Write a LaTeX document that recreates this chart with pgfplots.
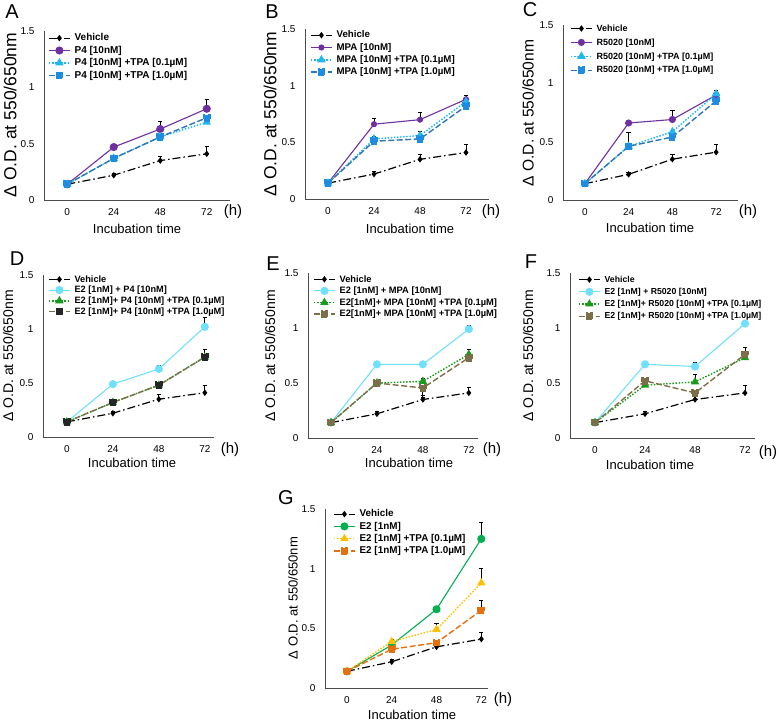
\documentclass[border=0pt]{standalone}
\usepackage{fontspec}
\setmainfont{Liberation Sans}
\usepackage{pgfplots}
\pgfplotsset{compat=1.18}
\definecolor{cPur}{HTML}{7030A0}
\definecolor{cLB}{HTML}{1FB8F0}
\definecolor{cBl}{HTML}{2E75B6}
\definecolor{cBlM}{HTML}{1E8CE0}
\definecolor{cCy}{HTML}{70E0FF}
\definecolor{cGr}{HTML}{1A9A1A}
\definecolor{cOl}{HTML}{7D6E4A}
\definecolor{cG2}{HTML}{00B050}
\definecolor{cYe}{HTML}{FFC000}
\definecolor{cOr}{HTML}{E4700F}
\pgfplotsset{
 panel/.style={scale only axis, anchor=south west, axis lines*=left,
  axis line style={black!70, line width=0.9pt},
  ymin=0, ymax=1.5, ytick={0,0.5,1,1.5}, yticklabels={0,0.5,1,1.5},
  xtick={0,1,2,3}, xticklabels={0,24,48,72},
  major tick length=0pt, tick style={draw=none},
  tick label style={font=\fontsize{10}{10}\selectfont},
  xticklabel style={yshift=-4.5pt}, yticklabel style={xshift=-6pt},
  clip=false, legend cell align=left,
  legend image code/.code={\draw[mark repeat=2,mark phase=2,##1] plot coordinates {(0pt,0pt) (10.5pt,0pt) (21pt,0pt)};}},
 leg/.style n args={4}{legend style={draw=none, fill=none, inner sep=0pt,
  at={(axis description cs:0,1)}, anchor=north west, xshift=#1, yshift=#2,
  font=\bfseries\fontsize{#3}{#3}\selectfont, row sep=#4, column sep=4pt,
  nodes={inner sep=0pt, text height=0.72em, text depth=0.18em}}},
 veh/.style={black, line width=1.2pt, dash pattern=on 8pt off 3pt on 1.5pt off 3pt, mark=diamond*, mark size=2.3pt, mark options={solid}},
 hor/.style={#1, line width=1.1pt, solid, mark=*, mark size=3.5pt},
 tpaA/.style={#1, line width=1.4pt, dash pattern=on 1.5pt off 1.6pt, mark=triangle*, mark size=3.5pt, mark options={solid}},
 tpaB/.style={#1, line width=1.4pt, dash pattern=on 6pt off 2.5pt, mark=square*, mark size=3.1pt, mark options={solid}},
 errs/.style={draw=none, mark=none, forget plot,
  error bars/y dir=plus, error bars/y explicit,
  error bars/error bar style={draw=black, solid, line width=0.8pt},
  error bars/error mark options={rotate=90, draw=black, solid, mark size=2.2pt, line width=0.8pt}},
}
\begin{document}
\begin{tikzpicture}
\useasboundingbox (0pt,0pt) rectangle (778pt,-723pt);
% ---------------- A
\begin{axis}[panel, at={(44pt,-200pt)}, width=186pt, height=169pt, xmin=-0.5, xmax=3.5, leg={4pt}{-2.4pt}{10}{3.4pt}]
\addplot[veh] coordinates {(0,0.14) (1,0.22) (2,0.35) (3,0.41)}; \addlegendentry{Vehicle}
\addplot[hor=cPur] coordinates {(0,0.14) (1,0.47) (2,0.63) (3,0.81)}; \addlegendentry{P4 [10nM]}
\addplot[tpaA=cLB] coordinates {(0,0.14) (1,0.37) (2,0.56) (3,0.69)}; \addlegendentry{P4 [10nM] +TPA [0.1µM]}
\addplot[tpaB=cBl, mark options={fill=cBlM, draw=cBlM}] coordinates {(0,0.14) (1,0.37) (2,0.56) (3,0.73)}; \addlegendentry{P4 [10nM] +TPA [1.0µM]}
\addplot[errs] coordinates {(1,0.22) +- (0,0.02) (2,0.35) +- (0,0.04) (3,0.41) +- (0,0.07) (2,0.63) +- (0,0.07) (3,0.81) +- (0,0.08)};
\end{axis}
% ---------------- B
\begin{axis}[panel, at={(305pt,-199pt)}, width=184pt, height=170pt, xmin=-0.5, xmax=3.5, leg={5pt}{-1.5pt}{9.7}{3.3pt}]
\addplot[veh] coordinates {(0,0.14) (1,0.22) (2,0.35) (3,0.41)}; \addlegendentry{Vehicle}
\addplot[hor=cPur, mark size=2.5pt] coordinates {(0,0.14) (1,0.66) (2,0.70) (3,0.88)}; \addlegendentry{MPA [10nM]}
\addplot[tpaA=cLB] coordinates {(0,0.14) (1,0.53) (2,0.56) (3,0.86)}; \addlegendentry{MPA [10nM] +TPA [0.1µM]}
\addplot[tpaB=cBl, mark options={fill=cBlM, draw=cBlM}] coordinates {(0,0.14) (1,0.51) (2,0.53) (3,0.82)}; \addlegendentry{MPA [10nM] +TPA [1.0µM]}
\addplot[errs] coordinates {(1,0.22) +- (0,0.02) (2,0.35) +- (0,0.04) (3,0.41) +- (0,0.07) (1,0.66) +- (0,0.05) (2,0.70) +- (0,0.06) (3,0.88) +- (0,0.03) (1,0.53) +- (0,0.02) (2,0.56) +- (0,0.04)};
\end{axis}
% ---------------- C
\begin{axis}[panel, at={(563pt,-200pt)}, width=175pt, height=175pt, xmin=-0.5, xmax=3.5, leg={7pt}{1.2pt}{9}{4.9pt}]
\addplot[veh] coordinates {(0,0.14) (1,0.22) (2,0.35) (3,0.41)}; \addlegendentry{Vehicle}
\addplot[hor=cPur, mark size=3pt] coordinates {(0,0.14) (1,0.66) (2,0.69) (3,0.90)}; \addlegendentry{R5020 [10nM]}
\addplot[tpaA=cLB] coordinates {(0,0.14) (1,0.46) (2,0.585) (3,0.91)}; \addlegendentry{R5020 [10nM] +TPA [0.1µM]}
\addplot[tpaB=cBl, mark options={fill=cBlM, draw=cBlM}] coordinates {(0,0.14) (1,0.46) (2,0.54) (3,0.85)}; \addlegendentry{R5020 [10nM] +TPA [1.0µM]}
\addplot[errs] coordinates {(1,0.22) +- (0,0.02) (2,0.35) +- (0,0.04) (3,0.41) +- (0,0.07) (2,0.69) +- (0,0.08) (3,0.90) +- (0,0.04) (1,0.46) +- (0,0.12)};
\end{axis}
% ---------------- D
\begin{axis}[panel, at={(43pt,-437pt)}, width=171pt, height=162pt, xmin=-0.52, xmax=3.2, leg={5pt}{0.3pt}{9.2}{1.7pt}]
\addplot[veh] coordinates {(0,0.14) (1,0.22) (2,0.35) (3,0.41)}; \addlegendentry{Vehicle}
\addplot[hor=cCy] coordinates {(0,0.14) (1,0.49) (2,0.63) (3,1.02)}; \addlegendentry{E2 [1nM] + P4 [10nM]}
\addplot[tpaA=cGr] coordinates {(0,0.14) (1,0.32) (2,0.48) (3,0.74)}; \addlegendentry{E2 [1nM]+ P4 [10nM] +TPA [0.1µM]}
\addplot[tpaB=cOl, mark options={fill=black!85, draw=black!85}] coordinates {(0,0.14) (1,0.32) (2,0.48) (3,0.74)}; \addlegendentry{E2 [1nM]+ P4 [10nM] +TPA [1.0µM]}
\addplot[errs] coordinates {(1,0.22) +- (0,0.02) (2,0.35) +- (0,0.04) (3,0.41) +- (0,0.07) (1,0.49) +- (0,0.01) (2,0.63) +- (0,0.03) (3,1.02) +- (0,0.09) (3,0.74) +- (0,0.07)};
\end{axis}
% ---------------- E
\begin{axis}[panel, at={(308pt,-438pt)}, width=170pt, height=165pt, xmin=-0.5, xmax=3.2, leg={5pt}{-1.6pt}{9.3}{2.6pt}]
\addplot[veh] coordinates {(0,0.14) (1,0.22) (2,0.35) (3,0.41)}; \addlegendentry{Vehicle}
\addplot[hor=cCy] coordinates {(0,0.14) (1,0.67) (2,0.67) (3,0.99)}; \addlegendentry{E2 [1nM] + MPA [10nM]}
\addplot[tpaA=cGr] coordinates {(0,0.14) (1,0.50) (2,0.515) (3,0.76)}; \addlegendentry{E2[1nM]+ MPA [10nM] +TPA [0.1µM]}
\addplot[tpaB=cOl, mark options={fill=cOl, draw=cOl}] coordinates {(0,0.14) (1,0.50) (2,0.455) (3,0.73)}; \addlegendentry{E2[1nM]+ MPA [10nM] +TPA [1.0µM]}
\addplot[errs] coordinates {(1,0.22) +- (0,0.02) (2,0.35) +- (0,0.04) (3,0.41) +- (0,0.05) (1,0.67) +- (0,0.02) (2,0.67) +- (0,0.02) (3,0.99) +- (0,0.03) (1,0.50) +- (0,0.02) (2,0.515) +- (0,0.03) (3,0.76) +- (0,0.05)};
\addplot[errs, error bars/y dir=minus] coordinates {(2,0.455) +- (0,0.09)};
\end{axis}
% ---------------- F
\begin{axis}[panel, at={(570pt,-438pt)}, width=185pt, height=165pt, xmin=-0.5, xmax=3.2, leg={8pt}{-1.9pt}{8.7}{3.2pt}]
\addplot[veh] coordinates {(0,0.14) (1,0.22) (2,0.35) (3,0.41)}; \addlegendentry{Vehicle}
\addplot[hor=cCy] coordinates {(0,0.14) (1,0.67) (2,0.65) (3,1.04)}; \addlegendentry{E2 [1nM] + R5020 [10nM]}
\addplot[tpaA=cGr] coordinates {(0,0.14) (1,0.48) (2,0.51) (3,0.73)}; \addlegendentry{E2 [1nM]+ R5020 [10nM] +TPA [0.1µM]}
\addplot[tpaB=cOl, mark options={fill=cOl, draw=cOl}] coordinates {(0,0.14) (1,0.52) (2,0.41) (3,0.76)}; \addlegendentry{E2 [1nM]+ R5020 [10nM] +TPA [1.0µM]}
\addplot[errs] coordinates {(1,0.22) +- (0,0.02) (2,0.35) +- (0,0.04) (3,0.41) +- (0,0.07) (1,0.67) +- (0,0.02) (2,0.65) +- (0,0.04) (3,1.04) +- (0,0.01) (2,0.51) +- (0,0.07) (1,0.52) +- (0,0.02) (3,0.76) +- (0,0.06)};
\end{axis}
% ---------------- G
\begin{axis}[panel, at={(325pt,-688pt)}, width=163pt, height=179pt, xmin=-0.49, xmax=3.15, leg={8pt}{-0.4pt}{9.9}{3.3pt}]
\addplot[veh] coordinates {(0,0.14) (1,0.22) (2,0.345) (3,0.41)}; \addlegendentry{Vehicle}
\addplot[hor=cG2] coordinates {(0,0.14) (1,0.36) (2,0.66) (3,1.25)}; \addlegendentry{E2 [1nM]}
\addplot[tpaA=cYe] coordinates {(0,0.14) (1,0.39) (2,0.49) (3,0.88)}; \addlegendentry{E2 [1nM] +TPA [0.1µM]}
\addplot[tpaB=cOr, mark options={fill=cOr, draw=cOr}] coordinates {(0,0.14) (1,0.325) (2,0.38) (3,0.65)}; \addlegendentry{E2 [1nM] +TPA [1.0µM]}
\addplot[errs] coordinates {(1,0.22) +- (0,0.02) (2,0.345) +- (0,0.03) (3,0.41) +- (0,0.06) (3,1.25) +- (0,0.14) (1,0.39) +- (0,0.02) (2,0.49) +- (0,0.05) (3,0.88) +- (0,0.12) (2,0.38) +- (0,0.02) (3,0.65) +- (0,0.08)};
\end{axis}
% ---------------- text
\begin{scope}[every node/.style={inner sep=0pt}]
\node[font=\fontsize{20}{20}\selectfont] at (12pt,-12pt) {A};
\node[font=\fontsize{20}{20}\selectfont] at (272pt,-12pt) {B};
\node[font=\fontsize{20}{20}\selectfont] at (530pt,-10pt) {C};
\node[font=\fontsize{20}{20}\selectfont] at (17pt,-259pt) {D};
\node[font=\fontsize{20}{20}\selectfont] at (273pt,-264pt) {E};
\node[font=\fontsize{20}{20}\selectfont] at (531pt,-262pt) {F};
\node[font=\fontsize{20}{20}\selectfont] at (286pt,-498pt) {G};
\node[rotate=90, font=\fontsize{17.5}{17.5}\selectfont] at (10pt,-115pt) {Δ O.D. at 550/650nm};
\node[rotate=90, font=\fontsize{17.5}{17.5}\selectfont] at (270pt,-114pt) {Δ O.D. at 550/650nm};
\node[rotate=90, font=\fontsize{15.6}{15.6}\selectfont] at (528pt,-113pt) {Δ O.D. at 550/650nm};
\node[rotate=90, font=\fontsize{14}{14}\selectfont] at (8pt,-356pt) {Δ O.D. at 550/650nm};
\node[rotate=90, font=\fontsize{14}{14}\selectfont] at (270pt,-356pt) {Δ O.D. at 550/650nm};
\node[rotate=90, font=\fontsize{14}{14}\selectfont] at (528pt,-356pt) {Δ O.D. at 550/650nm};
\node[rotate=90, font=\fontsize{13}{13}\selectfont] at (293pt,-598pt) {Δ O.D. at 550/650nm};
\node[font=\fontsize{13}{13}\selectfont] at (137pt,-229pt) {Incubation time};
\node[font=\fontsize{13}{13}\selectfont] at (410pt,-229pt) {Incubation time};
\node[font=\fontsize{13}{13}\selectfont] at (650pt,-228pt) {Incubation time};
\node[font=\fontsize{13}{13}\selectfont] at (132pt,-463pt) {Incubation time};
\node[font=\fontsize{13}{13}\selectfont] at (409pt,-463pt) {Incubation time};
\node[font=\fontsize{13}{13}\selectfont] at (650pt,-465pt) {Incubation time};
\node[font=\fontsize{13}{13}\selectfont] at (412pt,-715pt) {Incubation time};
\node[font=\fontsize{15}{15}\selectfont] at (233pt,-212pt) {(h)};
\node[font=\fontsize{15}{15}\selectfont] at (491pt,-212pt) {(h)};
\node[font=\fontsize{15}{15}\selectfont] at (748pt,-212pt) {(h)};
\node[font=\fontsize{15}{15}\selectfont] at (230pt,-450pt) {(h)};
\node[font=\fontsize{15}{15}\selectfont] at (492pt,-450pt) {(h)};
\node[font=\fontsize{15}{15}\selectfont] at (768pt,-453pt) {(h)};
\node[font=\fontsize{15}{15}\selectfont] at (503pt,-700pt) {(h)};
\end{scope}
\end{tikzpicture}
\end{document}
